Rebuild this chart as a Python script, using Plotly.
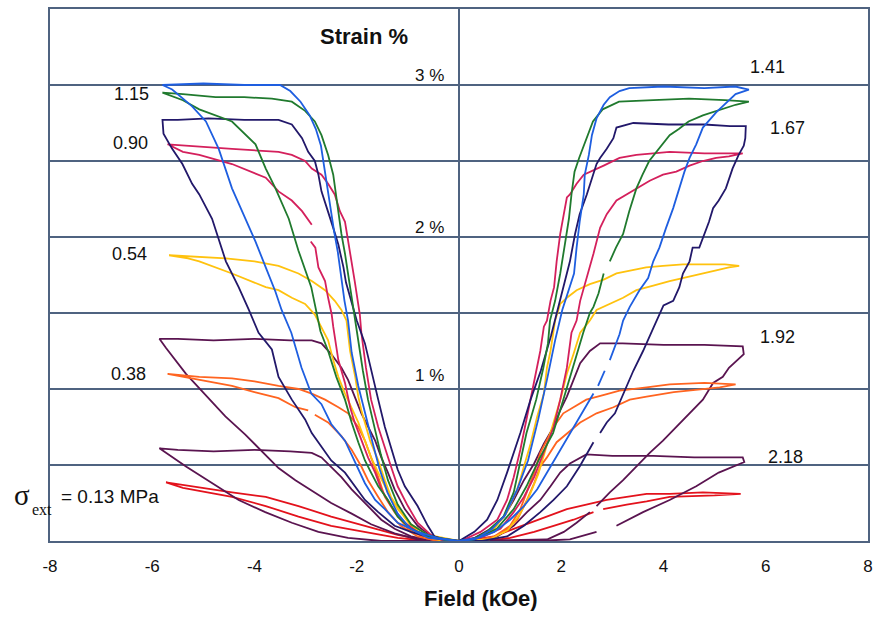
import plotly.graph_objects as go

# Field (kOe) / strain (%) loops for each external stress (MPa).
# Each list runs: origin -> negative-field extreme -> origin -> positive-field extreme -> origin.
# None marks a break in the recorded trace.

H_013 = [0, -0.55, -1.2, -1.84, -2.5, -3.14, -3.78, -4.44, -5.08, -5.73,
         -5.4, -5.08, -4.44, -3.78, -3.14, -2.5, -1.84, -1.2, -0.6, 0,
         0.3, 0.69, 1.07, 1.39, 1.72, 2.11, 2.49, 2.89, 3.28, 3.67, 4.12, 4.77, 5.51,
         5.0, 4.12, 3.67, 3.28, 2.82, None, 2.63, 2.24, 1.85, 1.47, 1.0, 0.55, 0]
E_013 = [0, 0.0, 0.04, 0.1, 0.16, 0.23, 0.29, 0.32, 0.35, 0.385,
         0.35, 0.33, 0.29, 0.23, 0.16, 0.1, 0.06, 0.02, 0.0, 0,
         0.01, 0.03, 0.08, 0.12, 0.16, 0.21, 0.24, 0.27, 0.29, 0.31, 0.31, 0.32, 0.31,
         0.3, 0.29, 0.26, 0.24, 0.21, None, 0.19, 0.14, 0.1, 0.06, 0.02, 0.0, 0]

H_038 = [0, -0.4, -0.67, -1.0, -1.26, -1.45, -1.58, -1.72, -1.84, -1.97, -2.17, -2.36, -2.62, -2.88,
         -3.14, -3.53, -4.0, -4.44, -5.08, -5.7,
         -5.08, -4.44, -4.0, -3.53, -3.2, -2.95, None, -2.82, -2.56, -2.3, -2.1, -1.91, -1.78, -1.58,
         -1.39, -1.14, -0.81, -0.4, 0,
         0.3, 0.69, 1.0, 1.2, 1.33, 1.47, 1.59, 1.72, 1.85, 2.04, 2.24, 2.49, 2.82, 3.14, 3.67, 4.12,
         4.8, 5.41,
         5.1, 4.77, 4.2, 3.67, 3.34, 3.02, 2.69, 2.37, 2.11, 1.91, 1.72, 1.59, 1.47, 1.33, 1.14, 0.88,
         0.55, 0]
E_038 = [0, 0.0, 0.02, 0.08, 0.19, 0.29, 0.42, 0.55, 0.66, 0.75, 0.84, 0.88, 0.93, 0.97,
         1.0, 1.02, 1.05, 1.07, 1.08, 1.1,
         1.06, 1.02, 0.98, 0.94, 0.88, 0.86, None, 0.83, 0.78, 0.69, 0.6, 0.49, 0.4, 0.29,
         0.19, 0.1, 0.03, 0.0, 0,
         0.0, 0.03, 0.1, 0.21, 0.32, 0.45, 0.58, 0.66, 0.75, 0.84, 0.88, 0.93, 0.96, 0.99, 1.01, 1.03,
         1.04, 1.03,
         1.01, 1.0, 0.98, 0.95, 0.93, 0.88, 0.84, 0.78, 0.71, 0.65, 0.55, 0.49, 0.38, 0.27, 0.14, 0.06,
         0.01, 0]

H_054 = [0, -0.3, -0.67, -0.94, -1.14, -1.33, -1.45, -1.58, -1.74, -1.82, -1.91, -1.97, -2.03, -2.13,
         -2.2, -2.3, -2.43, -2.62, -2.88, -3.14, -3.53, -4.0, -4.56, -5.67,
         -5.3, -5.08, -4.44, -3.78, -3.53, -3.27, -3.01, -2.82, -2.69, -2.56, -2.46, -2.36, -2.23, -2.11,
         -1.97, -1.84, -1.72, -1.58, -1.39, -1.2, -0.94, -0.61, 0,
         0.3, 0.69, 0.94, 1.14, 1.27, 1.4, 1.53, 1.66, 1.72, 1.79, 1.88, 1.98, 2.11, 2.3, 2.56, 2.83,
         3.08, 3.34, 3.66, 3.99, 4.38, 4.77, 5.2, 5.48,
         5.28, 5.03, 4.77, 4.44, 4.12, 3.8, 3.47, 3.21, 2.95, 2.69, 2.56, 2.37, 2.24, 2.11, 2.0, 1.85,
         1.7, 1.55, 1.38, 1.18, 0.95, 0.6, 0]
E_054 = [0, 0.0, 0.03, 0.1, 0.19, 0.29, 0.4, 0.53, 0.66, 0.75, 0.86, 0.95, 1.08, 1.25,
         1.45, 1.52, 1.58, 1.65, 1.71, 1.76, 1.81, 1.84, 1.86, 1.88,
         1.86, 1.84, 1.76, 1.67, 1.65, 1.6, 1.56, 1.49, 1.41, 1.32, 1.19, 1.08, 0.97, 0.88,
         0.78, 0.66, 0.55, 0.45, 0.32, 0.21, 0.11, 0.04, 0,
         0.01, 0.08, 0.19, 0.34, 0.49, 0.64, 0.82, 0.97, 1.14, 1.25, 1.45, 1.56, 1.6, 1.65, 1.69, 1.72,
         1.76, 1.78, 1.8, 1.81, 1.82, 1.82, 1.82, 1.81,
         1.8, 1.78, 1.76, 1.73, 1.71, 1.68, 1.65, 1.6, 1.56, 1.52, 1.45, 1.37, 1.23, 1.1, 0.95, 0.78,
         0.6, 0.44, 0.3, 0.17, 0.07, 0.01, 0]

H_090 = [0, -0.3, -0.55, -0.81, -1.0, -1.2, -1.33, -1.45, -1.58, -1.72, -1.82, -1.91, -1.94, -2.04,
         -2.1, -2.17, -2.23, -2.33, -2.43, -2.56, -2.69, -2.88, -3.01, -3.27, -3.53, -4.44, -5.2, -5.7,
         -5.4, -5.08, -4.44, -3.78, -3.53, -3.27, -3.07, -2.88, None, -2.9, -2.81, -2.75, -2.62, -2.56,
         -2.49, -2.46, -2.36, -2.23, -2.13, -2.04, -1.91, -1.78, -1.64, -1.52, -1.33, -1.06, -0.81,
         -0.48, 0,
         0.1, 0.42, 0.75, 0.94, 1.07, 1.2, 1.33, 1.47, 1.59, 1.66, 1.72, 1.79, 1.86, 1.91, 1.98, 2.05,
         2.11, 2.17, 2.3, 2.44, 2.56, 2.83, 3.14, 3.47, 3.8, 4.12, 4.8, 5.55,
         5.28, 5.03, 4.77, 4.51, 4.25, 3.99, 3.73, 3.47, 3.28, 3.08, 2.89, 2.76, 2.63, 2.5, 2.37, 2.3,
         2.2, 2.11, 1.98, 1.85, 1.66, 1.47, 1.27, 1.07, 0.81, 0.42, 0]
E_090 = [0, 0.0, 0.04, 0.12, 0.23, 0.36, 0.49, 0.62, 0.75, 0.93, 1.14, 1.37, 1.49, 1.71,
         1.84, 1.97, 2.1, 2.17, 2.28, 2.35, 2.41, 2.45, 2.5, 2.54, 2.56, 2.58, 2.6, 2.61,
         2.56, 2.54, 2.48, 2.39, 2.3, 2.24, 2.17, 2.08, None, 1.97, 1.93, 1.8, 1.71, 1.6,
         1.49, 1.41, 1.19, 1.04, 0.88, 0.78, 0.66, 0.55, 0.45, 0.34, 0.23, 0.12, 0.06,
         0.02, 0,
         0.01, 0.06, 0.14, 0.27, 0.42, 0.6, 0.82, 1.04, 1.25, 1.41, 1.45, 1.58, 1.67, 1.84, 2.02, 2.15,
         2.26, 2.28, 2.35, 2.41, 2.43, 2.47, 2.52, 2.54, 2.55, 2.56, 2.55, 2.55,
         2.53, 2.52, 2.5, 2.47, 2.43, 2.41, 2.37, 2.32, 2.28, 2.24, 2.15, 2.06, 1.89, 1.73, 1.58, 1.45,
         1.37, 1.14, 0.93, 0.75, 0.58, 0.42, 0.29, 0.19, 0.08, 0.02, 0]

H_115 = [0, -0.22, -0.61, -0.94, -1.2, -1.39, -1.53, -1.64, -1.78, -1.88, -1.97, -2.04, -2.1, -2.17,
         -2.23, -2.3, -2.36, -2.4, -2.46, -2.56, -2.69, -2.82, -3.01, -3.27, -3.66, -4.2, -4.76, -5.4,
         -5.8,
         -5.4, -5.08, -4.44, -3.98, -3.78, -3.59, -3.33, -3.14, -2.89, -2.79, -2.71, -2.56, -2.4, -2.23,
         -2.1, -1.97, -1.84, -1.72, -1.58, -1.39, -1.2, -0.94, -0.61, 0,
         0.2, 0.54, 0.87, 1.07, 1.18, 1.32, 1.51, 1.65, 1.74, 1.78, 1.88, 1.98, 2.07, 2.15, 2.2, 2.26,
         2.35, 2.49, 2.62, 2.81, 3.13, 3.8, 4.5, 5.2, 5.67,
         5.41, 5.15, 4.77, 4.49, 4.3, 4.12, 3.9, 3.72, 3.59, 3.47, 3.33, 3.21, 3.07, 2.95, None, 2.83,
         2.73, 2.63, 2.56, 2.43, 2.23, 2.04, 1.84, 1.57, 1.32, 1.07, 0.74, 0.3, 0]
E_115 = [0, 0.0, 0.04, 0.11, 0.24, 0.4, 0.57, 0.73, 0.93, 1.12, 1.32, 1.49, 1.63, 1.76,
         1.89, 2.02, 2.17, 2.28, 2.41, 2.54, 2.67, 2.76, 2.83, 2.89, 2.91, 2.92, 2.92, 2.94,
         2.95,
         2.9, 2.84, 2.76, 2.61, 2.45, 2.32, 2.12, 1.91, 1.67, 1.52, 1.38, 1.25, 1.08, 0.93,
         0.78, 0.65, 0.53, 0.45, 0.36, 0.27, 0.16, 0.08, 0.03, 0,
         0.0, 0.06, 0.16, 0.32, 0.49, 0.71, 0.93, 1.14, 1.3, 1.45, 1.58, 1.76, 1.95, 2.12, 2.28, 2.43,
         2.52, 2.65, 2.76, 2.84, 2.89, 2.9, 2.91, 2.9, 2.89,
         2.87, 2.84, 2.8, 2.76, 2.71, 2.67, 2.58, 2.5, 2.41, 2.32, 2.17, 2.02, 1.93, 1.84, None, 1.76,
         1.63, 1.54, 1.5, 1.37, 1.14, 0.93, 0.71, 0.54, 0.36, 0.21, 0.08, 0.01, 0]

H_141 = [0, -0.6, -0.95, -1.2, -1.4, -1.56, -1.7, -1.84, -1.97, -2.1, -2.17, -2.24, -2.3, -2.37,
         -2.44, -2.5, -2.58, -2.64, -2.7, -2.8, -2.92, -3.1, -3.3, -3.5, -4.2, -5.0, -5.8,
         -5.61, -5.22, -4.95, -4.7, -4.44, -4.17, -3.98, -3.78, -3.59, -3.47, -3.28, -3.08, -2.89,
         -2.69, -2.5, -2.23, -2.0, -1.84, -1.64, -1.45, -1.2, -0.81, -0.42, 0,
         0.36, 0.65, 0.9, 1.14, 1.35, 1.55, 1.72, 1.88, 2.02, 2.15, 2.25, 2.3, 2.36, 2.44, 2.46, 2.54,
         2.6, 2.69, 2.83, 2.95, 3.14, 3.33, 4.0, 4.8, 5.4, 5.67,
         5.41, 5.03, 4.89, 4.77, 4.64, 4.51, 4.41, 4.31, 4.19, 4.05, 3.92, 3.8, 3.7, 3.53, 3.34, 3.21,
         3.14, 2.95, None, 2.85, 2.72, None, 2.63, 2.44, 2.24, 1.98, 1.72, 1.53, 1.27, 1.0, 0.69, 0.3, 0]
E_141 = [0, 0.02, 0.08, 0.18, 0.32, 0.48, 0.66, 0.85, 1.02, 1.24, 1.45, 1.58, 1.73, 1.9,
         2.03, 2.16, 2.32, 2.47, 2.6, 2.71, 2.8, 2.89, 2.96, 3.0, 3.0, 3.01, 3.0,
         2.97, 2.86, 2.76, 2.58, 2.32, 2.12, 1.97, 1.8, 1.64, 1.52, 1.37, 1.14, 0.97,
         0.9, 0.77, 0.66, 0.5, 0.38, 0.27, 0.21, 0.12, 0.06, 0.02, 0,
         0.02, 0.08, 0.17, 0.34, 0.53, 0.8, 1.06, 1.32, 1.52, 1.65, 1.76, 1.93, 2.1, 2.28, 2.41, 2.54,
         2.67, 2.78, 2.87, 2.92, 2.96, 2.98, 2.99, 2.98, 2.99, 2.97,
         2.94, 2.82, 2.77, 2.72, 2.61, 2.52, 2.43, 2.32, 2.19, 2.06, 1.93, 1.84, 1.73, 1.65, 1.54, 1.45,
         1.36, 1.19, None, 1.12, 1.02, None, 0.97, 0.86, 0.75, 0.6, 0.45, 0.34, 0.23, 0.14, 0.06, 0.01, 0]

H_167 = [0, -0.28, -0.48, -0.61, -0.81, -1.06, -1.2, -1.33, -1.45, -1.58, -1.68, -1.84, -2.0, -2.13,
         -2.21, -2.26, -2.36, -2.46, -2.56, -2.69, -2.75, -2.82, -2.95, -3.07, -3.27, -3.53, -4.2, -4.9,
         -5.5, -5.8,
         -5.78, -5.61, -5.41, -5.22, -5.08, -4.83, -4.56, -4.31, -4.11, -3.92, -3.66, -3.53, -3.27,
         -3.01, -2.88, -2.69, -2.5, -2.23, -2.04, -1.84, -1.58, -1.26, -0.94, -0.55, 0,
         0.3, 0.55, 0.75, 0.94, 1.07, 1.2, 1.4, 1.6, 1.8, 1.98, 2.07, 2.17, 2.27, 2.36, 2.5, 2.63, 2.69,
         2.76, 2.89, 3.02, 3.08, 3.41, 4.1, 4.8, 5.3, 5.61,
         5.6, 5.57, 5.47, 5.35, 5.22, 5.08, 4.97, 4.89, 4.77, 4.7, 4.57, 4.51, 4.38, 4.31, 4.19, 4.0,
         3.8, 3.6, 3.41, 3.22, 3.05, 2.89, 2.76, None, 2.63, 2.36, 2.11, 1.85, 1.59, 1.27, 0.94, 0.45, 0]
E_167 = [0, 0.01, 0.03, 0.1, 0.23, 0.36, 0.47, 0.62, 0.75, 0.93, 1.08, 1.3, 1.45, 1.6,
         1.7, 1.8, 1.95, 2.06, 2.17, 2.3, 2.41, 2.5, 2.56, 2.65, 2.74, 2.77, 2.77, 2.78,
         2.77, 2.77,
         2.68, 2.58, 2.48, 2.35, 2.28, 2.12, 1.84, 1.67, 1.52, 1.37, 1.26, 1.08, 0.93,
         0.8, 0.71, 0.62, 0.53, 0.45, 0.36, 0.27, 0.19, 0.1, 0.06, 0.02, 0,
         0.06, 0.14, 0.27, 0.45, 0.58, 0.71, 0.93, 1.12, 1.35, 1.58, 1.71, 1.84, 2.02, 2.15, 2.28, 2.41, 2.48,
         2.52, 2.58, 2.65, 2.72, 2.75, 2.74, 2.74, 2.73, 2.73,
         2.65, 2.6, 2.54, 2.45, 2.32, 2.24, 2.19, 2.1, 1.99, 1.93, 1.93, 1.84, 1.76, 1.67, 1.58, 1.55,
         1.4, 1.25, 1.12, 0.97, 0.84, 0.78, 0.71, None, 0.65, 0.49, 0.36, 0.27, 0.19, 0.1, 0.03, 0.0, 0]

H_192 = [0, -0.3, -0.55, -0.81, -1.06, -1.26, -1.39, -1.52, -1.64, -1.78, -1.91, -2.04, -2.17, -2.3,
         -2.5, -2.69, -2.88, -3.3, -4.0, -4.8, -5.5, -5.86,
         -5.73, -5.34, -4.95, -4.57, -4.18, -3.79, -3.53, -3.2, -2.88, -2.5, -2.1, -1.72, -1.26, -0.8, 0,
         0.3, 0.62, 0.88, 1.07, 1.27, 1.47, 1.66, 1.85, 1.98, 2.11, 2.24, 2.37, 2.56, 2.76, 3.2, 4.0,
         4.8, 5.55,
         5.57, 5.28, 5.16, 4.97, 4.77, 4.51, 4.25, 3.99, 3.73, 3.47, 3.21, 2.95, 2.69, None, 2.56, 2.3,
         2.05, 1.72, 0]
E_192 = [0, 0.0, 0.03, 0.1, 0.21, 0.34, 0.45, 0.55, 0.66, 0.75, 0.84, 0.95, 1.06, 1.14,
         1.23, 1.3, 1.32, 1.32, 1.33, 1.32, 1.33, 1.33,
         1.27, 1.1, 0.96, 0.82, 0.7, 0.57, 0.48, 0.4, 0.33, 0.25, 0.18, 0.11, 0.05, 0.01, 0,
         0.02, 0.08, 0.16, 0.27, 0.4, 0.51, 0.64, 0.75, 0.86, 0.95, 1.06, 1.17, 1.25, 1.3, 1.3, 1.29,
         1.29, 1.28,
         1.23, 1.14, 1.08, 1.04, 0.93, 0.84, 0.75, 0.66, 0.58, 0.49, 0.4, 0.32, 0.23, None, 0.19, 0.12,
         0.06, 0.01, 0]

H_218 = [0, -0.5, -0.94, -1.26, -1.52, -1.72, -1.91, -2.1, -2.3, -2.5, -2.69, -2.88, -3.3, -4.0,
         -4.8, -5.5, -5.86,
         -5.34, -4.82, -4.31, -3.79, -3.27, -2.75, -2.17, -1.52, 0,
         0.3, 0.75, 1.07, 1.33, 1.59, 1.79, 1.98, 2.17, 2.37, 2.49, 3.0, 3.8, 4.6, 5.55,
         5.58, 5.08, 4.64, 4.12, 3.6, 3.08, None, 2.69, 2.17, 1.5, 0]
E_218 = [0, 0.0, 0.03, 0.08, 0.14, 0.21, 0.27, 0.34, 0.42, 0.49, 0.55, 0.58, 0.59, 0.6,
         0.59, 0.6, 0.61,
         0.49, 0.38, 0.27, 0.19, 0.12, 0.06, 0.02, 0.0, 0,
         0.0, 0.03, 0.1, 0.19, 0.27, 0.36, 0.45, 0.51, 0.55, 0.57, 0.56, 0.56, 0.55, 0.55,
         0.52, 0.45, 0.36, 0.27, 0.19, 0.1, None, 0.06, 0.01, 0.0, 0]

CURVES = [
    ("0.13", H_013, E_013, "#e3121c"),
    ("2.18", H_218, E_218, "#5a1450"),
    ("1.92", H_192, E_192, "#5a1450"),
    ("0.38", H_038, E_038, "#ff6420"),
    ("0.54", H_054, E_054, "#ffc20e"),
    ("0.90", H_090, E_090, "#d4205c"),
    ("1.67", H_167, E_167, "#22186a"),
    ("1.15", H_115, E_115, "#207a2e"),
    ("1.41", H_141, E_141, "#1e5ee0"),
]

# stress labels placed beside their loops: (text, field, strain)
LEFT_LABELS = [("1.15", -6.41, 2.94), ("0.90", -6.42, 2.62), ("0.54", -6.44, 1.89), ("0.38", -6.46, 1.10)]
RIGHT_LABELS = [("1.41", 6.04, 3.12), ("1.67", 6.42, 2.72), ("1.92", 6.23, 1.34), ("2.18", 6.39, 0.55)]
LEVEL_LABELS = [("3 %", 3.06), ("2 %", 2.06), ("1 %", 1.09)]

X_TICKS = [-8, -6, -4, -2, 0, 2, 4, 6, 8]

FONT = "Liberation Sans, Arial, sans-serif"
SERIF = "Liberation Serif, Times New Roman, serif"
GRID = "#4f6380"

fig = go.Figure()
for name, h, e, col in CURVES:
    fig.add_trace(go.Scatter(x=h, y=e, mode="lines", name=name,
                             line=dict(color=col, width=1.8), connectgaps=False,
                             hoverinfo="skip"))

ann = []
for txt, hx, ey in LEFT_LABELS + RIGHT_LABELS:
    ann.append(dict(x=hx, y=ey, xref="x", yref="y", text=txt, showarrow=False,
                    xanchor="center", yanchor="middle",
                    font=dict(family=FONT, size=18, color="#111")))
for txt, ey in LEVEL_LABELS:
    ann.append(dict(x=-0.26, y=ey, xref="x", yref="y", text=txt, showarrow=False,
                    xanchor="right", yanchor="middle",
                    font=dict(family=FONT, size=17, color="#111")))
ann.append(dict(x=-1.86, y=3.32, xref="x", yref="y", text="<b>Strain %</b>", showarrow=False,
                xanchor="center", yanchor="middle",
                font=dict(family=FONT, size=22, color="#111")))

# stress caption for the lowest loop (sigma, subscript, value), partly left of the frame
ann.append(dict(x=-0.047, y=0.086, xref="paper", yref="paper", text="σ",
                showarrow=False, xanchor="left", yanchor="middle",
                font=dict(family=SERIF, size=29, color="#111")))
ann.append(dict(x=-0.025, y=0.06, xref="paper", yref="paper", text="ext",
                showarrow=False, xanchor="left", yanchor="middle",
                font=dict(family=SERIF, size=16, color="#111")))
ann.append(dict(x=0.011, y=0.084, xref="paper", yref="paper", text="= 0.13 MPa",
                showarrow=False, xanchor="left", yanchor="middle",
                font=dict(family=FONT, size=19, color="#111")))

ann.append(dict(x=0.527, y=-0.108, xref="paper", yref="paper", text="<b>Field (kOe)</b>",
                showarrow=False, xanchor="center", yanchor="middle",
                font=dict(family=FONT, size=22, color="#111")))

fig.update_layout(
    width=880, height=617,
    margin=dict(l=50, r=7, t=8, b=76),
    paper_bgcolor="white", plot_bgcolor="white",
    showlegend=False,
    annotations=ann,
    xaxis=dict(range=[-8, 8], tickvals=X_TICKS, ticktext=[str(v) for v in X_TICKS],
               showgrid=False, zeroline=True, zerolinecolor=GRID, zerolinewidth=1.6,
               showline=True, mirror=True, linecolor=GRID, linewidth=1.6,
               ticks="", ticklabelstandoff=9,
               tickfont=dict(family=FONT, size=17, color="#111")),
    yaxis=dict(range=[0, 3.5], dtick=0.5, showticklabels=False,
               showgrid=True, gridcolor=GRID, gridwidth=1.6, zeroline=False,
               showline=True, mirror=True, linecolor=GRID, linewidth=1.6, ticks=""),
)

fig.write_html("out.html")
